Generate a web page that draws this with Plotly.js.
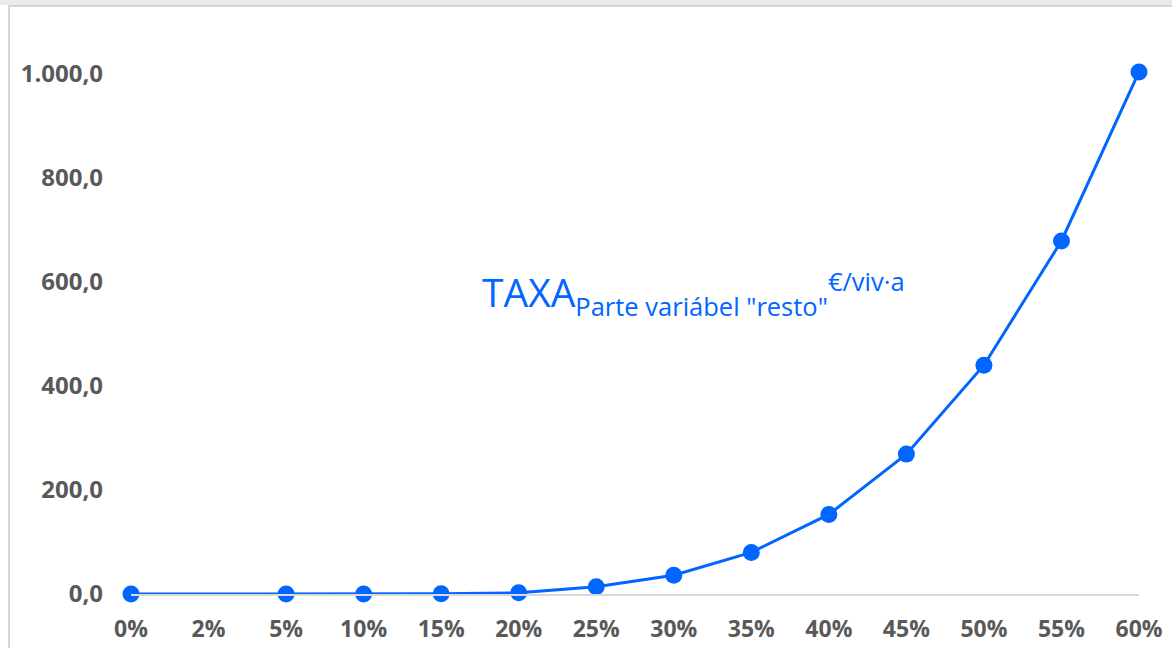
<!DOCTYPE html>
<html>
<head>
<meta charset="utf-8">
<script src="https://cdn.plot.ly/plotly-3.0.1.min.js"></script>
<style>
  html, body { margin: 0; padding: 0; background: #ffffff; }
  #top { position: absolute; left: 0; top: 0; width: 1172px; height: 5px; background: #ebebeb; }
  #frame { position: absolute; left: 8px; top: 5px; width: 1164px; height: 643px;
           border-top: 2px solid #d6d6d6; border-left: 2px solid #d6d6d6; box-sizing: border-box; }
  #chart { position: absolute; left: 0; top: 0; width: 1172px; height: 648px; }
</style>
</head>
<body>
<div id="top"></div>
<div id="frame"></div>
<div id="chart"></div>
<script>
const categories = ["0%", "2%", "5%", "10%", "15%", "20%", "25%", "30%", "35%", "40%", "45%", "50%", "55%", "60%"];
const taxaValues = [0, null, 0, 0.1, 0.6, 2.3, 13.8, 36, 80, 153, 269, 440, 679, 1004];
const yTicks = [0, 200, 400, 600, 800, 1000];
const labelMain = 'TAXA';
const labelSub = 'Parte variábel "resto"';
const labelSup = '€/viv·a';

const blue = '#0066ff';
const grey = '#595959';

const trace = {
  x: categories,
  y: taxaValues,
  type: 'scatter',
  mode: 'lines+markers',
  connectgaps: true,
  cliponaxis: false,
  line: { color: blue, width: 3 },
  marker: { color: blue, size: 17 },
  hoverinfo: 'x+y'
};

const layout = {
  width: 1172,
  height: 648,
  margin: { l: 131, r: 33, t: 48, b: 53.5 },
  paper_bgcolor: 'rgba(0,0,0,0)',
  plot_bgcolor: 'rgba(0,0,0,0)',
  separators: ',.',
  showlegend: false,
  font: { family: '"Open Sans", "Noto Sans", sans-serif', color: grey },
  xaxis: {
    type: 'category',
    range: [0, 13],
    showgrid: false,
    zeroline: false,
    showline: true,
    linecolor: '#d9d9d9',
    linewidth: 2,
    ticks: '',
    ticklabelstandoff: 13,
    tickfont: { size: 23, color: grey, weight: 'bold' }
  },
  yaxis: {
    range: [0, 1050],
    showgrid: false,
    zeroline: false,
    showline: false,
    ticks: '',
    tickvals: yTicks,
    tickformat: ',.1f',
    ticklabelstandoff: 27,
    tickfont: { size: 24, color: grey, weight: 'bold' }
  },
  annotations: [{
    text: labelMain + '<sub><span style="font-size:25.5px">' + labelSub + '</span></sub>' +
          '<sup><span style="font-size:25.5px">' + labelSup + '</span></sup>',
    xref: 'paper', yref: 'paper',
    x: (480 - 131) / 1008, y: (594.5 - 294) / 546.5,
    xanchor: 'left', yanchor: 'middle',
    showarrow: false,
    font: { size: 39, color: blue, family: '"Open Sans", "Noto Sans", sans-serif' }
  }]
};

Plotly.newPlot('chart', [trace], layout, { displayModeBar: false, staticPlot: true });
</script>
</body>
</html>
